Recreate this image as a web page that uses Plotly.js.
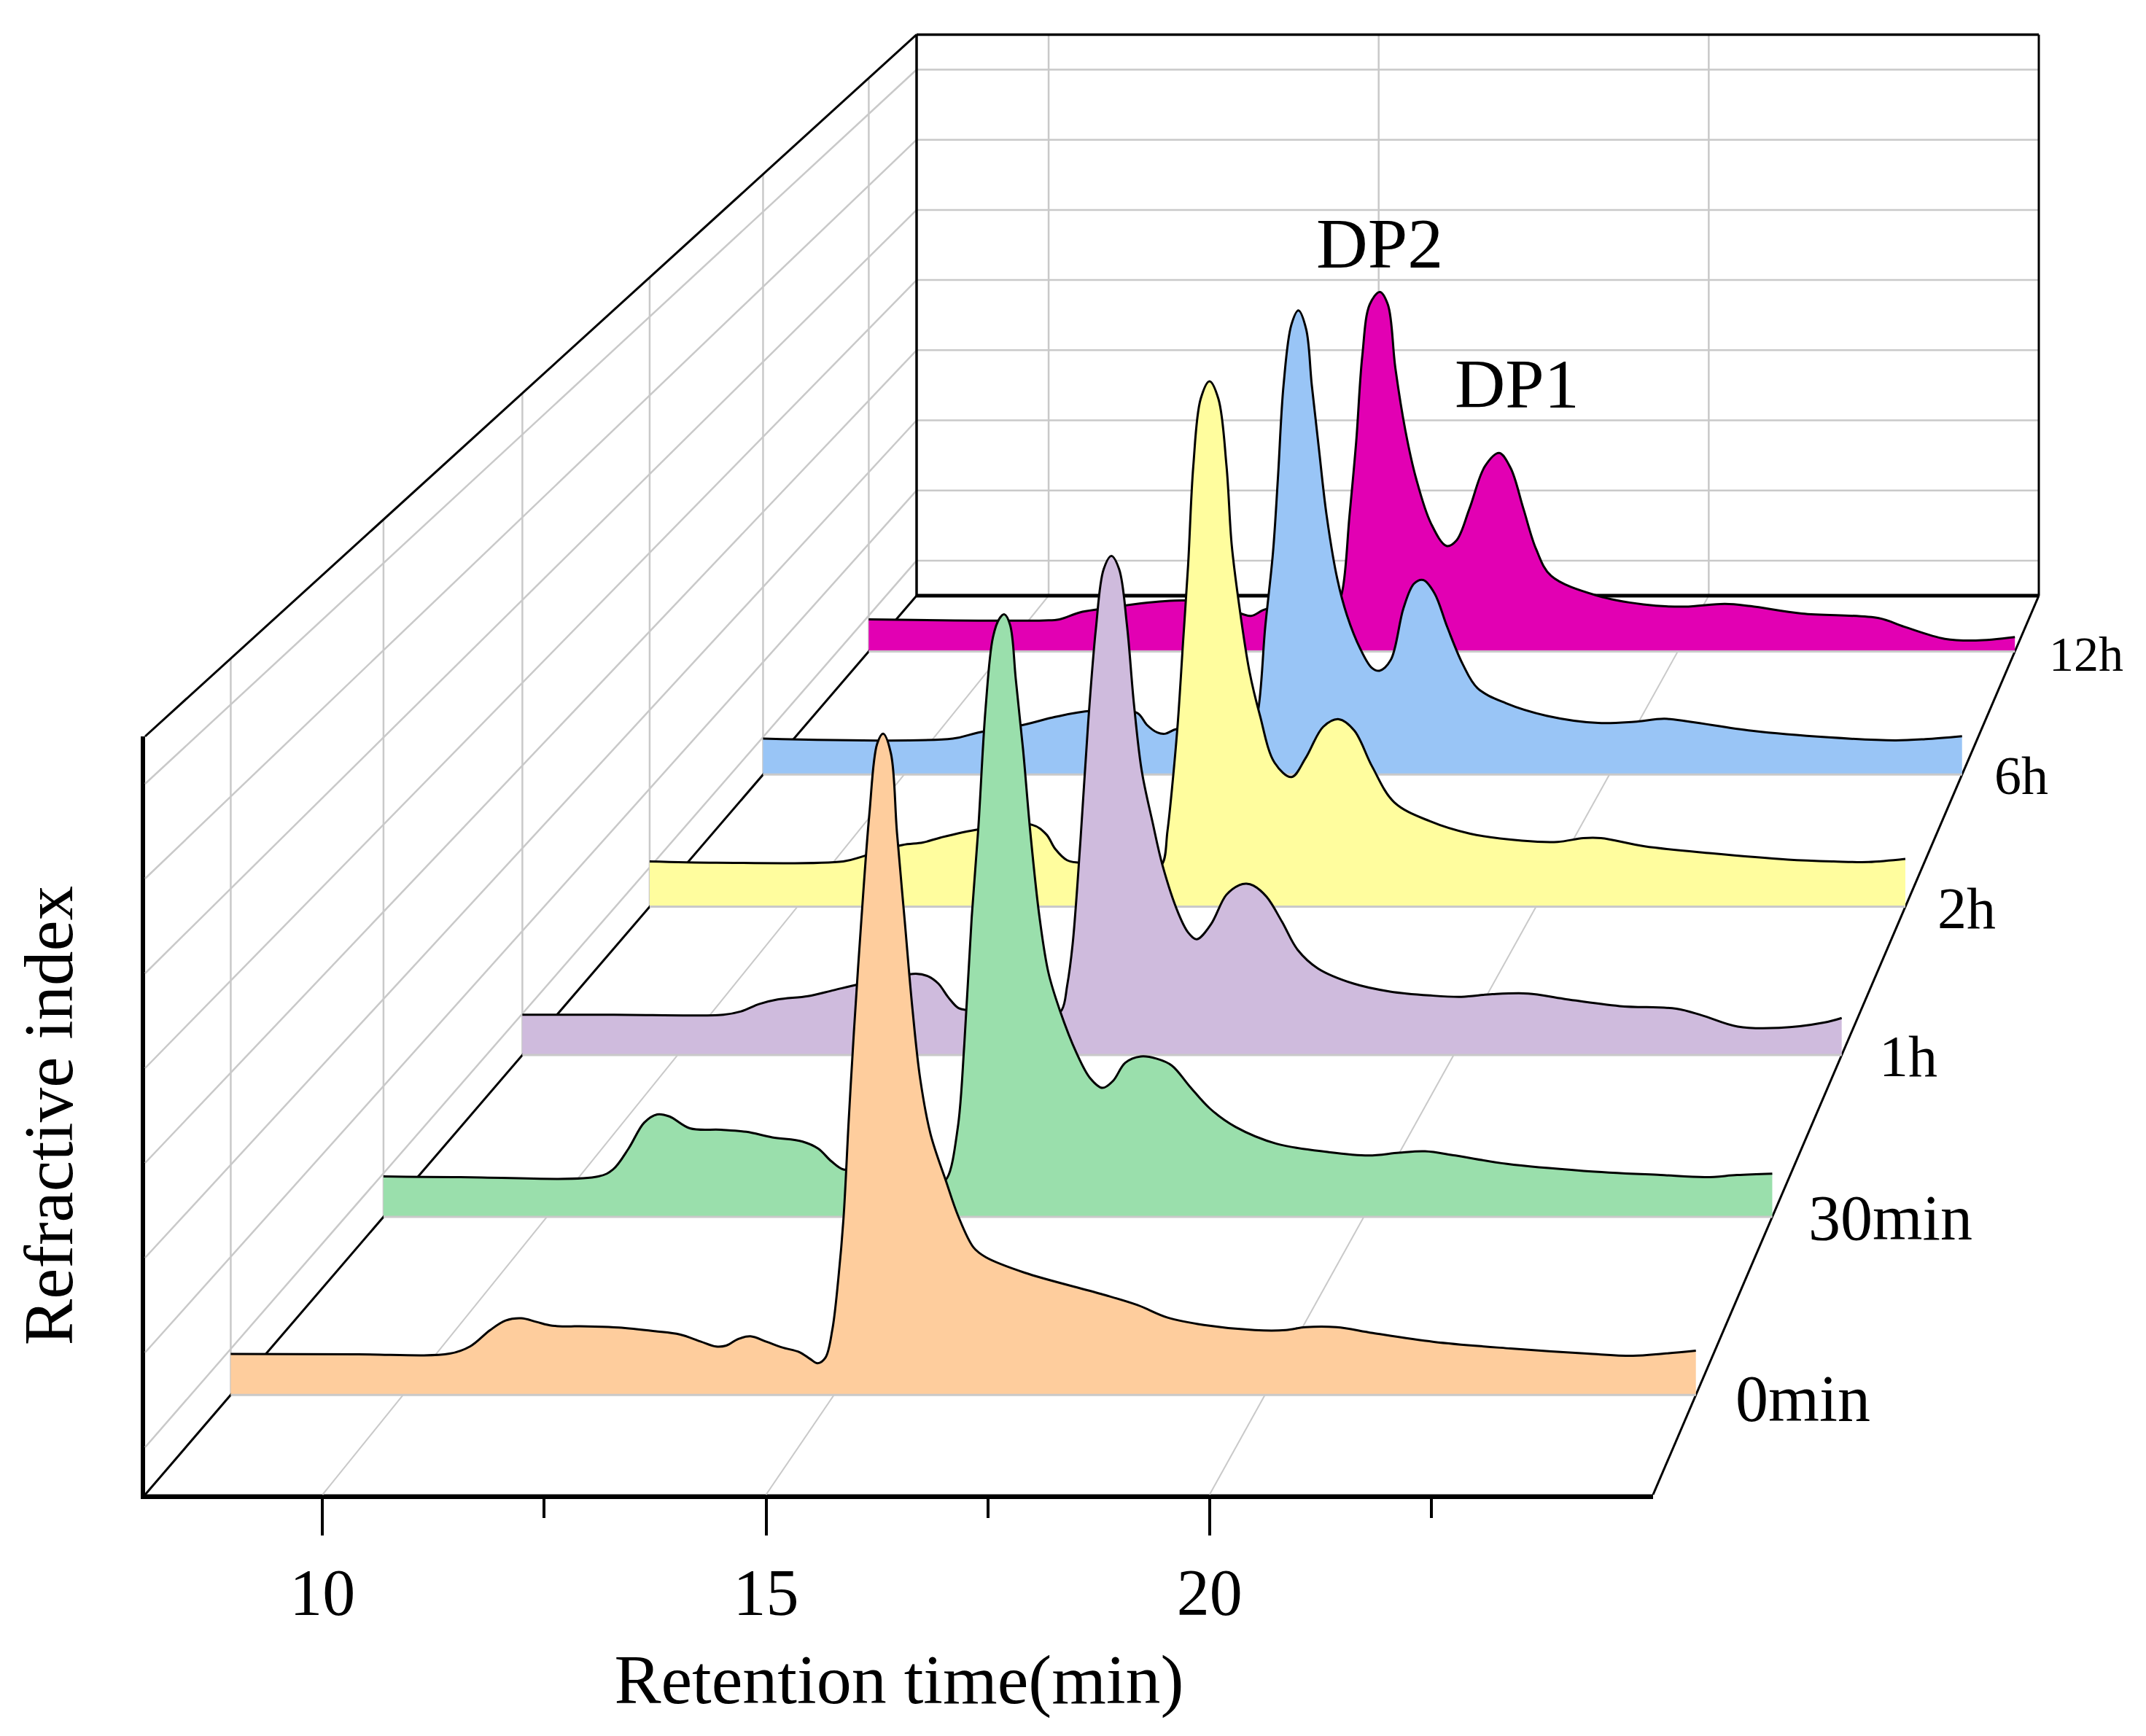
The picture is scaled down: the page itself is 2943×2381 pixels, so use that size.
<!DOCTYPE html>
<html>
<head>
<meta charset="utf-8">
<script src="https://cdn.plot.ly/plotly-3.0.1.min.js"></script>
<style>html,body{margin:0;padding:0;background:#fff}</style>
</head>
<body>
<div id="chart" style="width:2943px;height:2381px"></div>
<script>
// ---- data: retention time (min) and refractive index (% of wall height) ----
const rt0min = [8,9.47,10.54,10.78,11.01,11.19,11.37,11.55,11.73,12.14,12.5,12.92,13.21,13.45,13.63,13.75,13.89,14.03,14.22,14.4,14.6,14.72,14.81,14.9,14.98,15.05,15.11,15.17,15.23,15.32,15.41,15.5,15.57,15.66,15.73,15.82,15.91,16,16.12,16.3,16.44,16.62,16.76,17.21,18.1,18.52,18.87,19.29,19.88,20.24,20.47,20.83,21.25,21.96,22.85,23.74,24.27,24.63,25];
const ri0min = [5.56,5.5,5.6,6.6,8.8,10.1,10.4,9.9,9.4,9.3,9.15,8.65,8.2,7.26,6.57,6.7,7.6,7.95,7.2,6.44,5.8,4.9,4.3,5.05,8.84,15.8,24,37.2,49.2,65,78.9,88.4,89.8,87.1,76.4,64.4,52.4,42.9,35.4,29,24.3,20,18.7,16.6,13.7,12.2,10.5,9.5,8.8,8.8,9.2,9.2,8.4,7.2,6.3,5.6,5.3,5.6,6];

const rt30min = [8,8.94,10.63,10.81,11,11.19,11.35,11.5,11.75,12.13,12.44,12.76,13.13,13.32,13.48,13.63,14,14.4,14.81,14.9,15.03,15.11,15.2,15.28,15.37,15.46,15.54,15.6,15.67,15.74,15.83,15.92,16.03,16.14,16.28,16.48,16.65,16.8,16.93,17.08,17.27,17.46,17.65,17.87,18.12,18.43,18.93,19.56,20.06,20.43,20.75,21.12,21.75,22.69,23.63,24.19,24.57,25];
const ri30min = [5.8,5.7,5.8,6.8,9.8,13.5,14.7,14.4,12.7,12.5,12.2,11.4,10.8,9.8,8,6.8,7,6.5,4.8,5.6,12.8,24.8,42.9,55.5,72.9,83.1,85.8,86.4,84.9,77.1,66.9,54.9,43,35,29.6,23.6,19.9,18.5,19.5,22.1,23,22.7,21.7,18.7,15.5,12.9,10.5,9.3,8.8,9.2,9.4,8.8,7.6,6.6,6,5.7,6,6.2];

const rt1h = [8,9.18,10.59,10.82,11.05,11.29,11.68,12.01,12.34,13.07,13.23,13.36,13.49,13.62,13.74,14.4,14.8,14.95,15.02,15.09,15.19,15.29,15.39,15.49,15.59,15.69,15.79,15.88,15.98,16.12,16.25,16.45,16.58,16.69,16.87,17.07,17.24,17.33,17.42,17.59,17.79,17.99,18.25,18.71,19.18,19.7,20.1,20.5,20.96,21.42,22.14,22.87,23.2,23.66,24.19,24.77,25];
const ri1h = [6.1,6.1,6.1,6.6,7.7,8.4,8.9,9.8,10.7,12.3,11.9,10.8,8.7,7.1,6.8,6.4,5.6,6.8,10.5,16.7,32.2,50.1,64.4,73.4,75.4,73.4,65,53.1,43,35.2,28.6,21.5,18.5,17.5,19.7,24.2,25.7,25.9,25.6,23.9,20.1,15.9,13.1,10.8,9.6,9,8.8,9.2,9.3,8.5,7.4,7,6,4.3,4.1,4.9,5.6];

const rt2h = [8,8.9,10.62,10.9,11.42,11.7,11.94,12.46,13.18,13.37,13.49,13.65,13.81,14.4,14.8,14.94,15.01,15.08,15.15,15.22,15.29,15.36,15.46,15.58,15.7,15.81,15.88,15.98,16.12,16.26,16.46,16.69,16.88,17.12,17.33,17.54,17.78,18.08,18.56,19.11,19.81,20.29,20.64,20.88,21.47,22.37,23.41,24.03,24.5,25];
const ri2h = [7.2,7,7.2,8.05,9.8,10.2,11,12.3,13,11.5,9.2,7.4,7,6.8,5.8,6.8,12,19.8,29.2,41.8,54.3,70,80.7,83.5,80.7,70,57.5,48,37.4,30.5,22.9,20.6,23.6,28.6,29.8,28,22.3,16.6,13.6,11.6,10.5,10.3,10.9,10.9,9.6,8.5,7.5,7.2,7.1,7.6];

const rt6h = [8,10.69,11.05,11.7,12.14,12.65,13.3,13.44,13.59,13.7,13.87,14.4,14.9,15.01,15.12,15.23,15.3,15.38,15.49,15.59,15.7,15.78,15.88,15.99,16.14,16.28,16.47,16.63,16.74,16.9,17.08,17.23,17.36,17.52,17.7,17.92,18.13,18.53,19.11,19.84,20.35,20.78,21.15,22.02,23.11,24.05,24.48,25];
const ri6h = [6,6,7,8.3,9.6,10.6,10.3,8.3,7,6.8,7.6,7,6.4,10.1,24.6,37,49.4,64.9,74.9,77.3,74.2,64.9,54.4,43.2,32.7,26.5,20.9,17.8,17.3,19.1,27.7,31.8,32.4,30.2,24.6,18.4,14.4,11.9,9.8,8.6,8.8,9.3,8.8,7.3,6.2,5.7,5.9,6.4];

const rt12h = [8,10.6,10.83,11.13,11.44,12.04,12.65,13.26,13.48,13.67,13.9,14.4,14.9,15.02,15.13,15.23,15.32,15.43,15.58,15.7,15.81,15.96,16.12,16.34,16.57,16.72,16.91,17.14,17.35,17.52,17.71,17.9,18.12,18.81,19.49,20.1,20.7,21.08,21.84,22.98,23.36,23.96,24.42,25];
const ri12h = [5.6,5.4,5.6,6.8,7.4,8.4,8.9,8.4,6.8,6.2,7.4,7,6.6,10.3,23.6,36.6,51.5,60.5,62.7,60.5,49.5,38.5,30.1,22.3,18.4,19.4,24.9,32.3,34.6,32,24.9,17.8,13.2,9.7,8.2,7.8,8.3,7.9,6.6,5.8,4.3,2.2,1.9,2.5];

const seriesNames = ['12h','6h','2h','1h','30min','0min'];
const seriesRT = [rt12h,rt6h,rt2h,rt1h,rt30min,rt0min];
const seriesRI = [ri12h,ri6h,ri2h,ri1h,ri30min,ri0min];
const fills = ['#E200B3','#99C5F6','#FFFD9E','#CFBBDD','#9ADFAC','#FECD9D'];
const depths = [0.938,0.801,0.654,0.489,0.309,0.111];

const xTicks = [10,15,20];
const xMinor = [12.5,17.5,22.5];
const xTickText = ['10','15','20'];
const wallLevels = [6.25,18.75,31.25,43.75,56.25,68.75,81.25,93.75];

// ---- page frame (pixels) ----
const W = 2943, H = 2381;
const axL = 199, axR = 2267, axB = 2050, axT = 1010;
const backL = 1257, backR = 2796, backB = 817;
const pxT = (axR-axL)/17, pxV = (axB-axT)/100;
const depthX = (backL-axL)/pxT, depthY = (axB-backB)/pxV;
const shrinkX = 1-(backR-backL)/(axR-axL), shrinkV = 0.26;

// oblique projection of (time, index, depth) onto the front plane's scales
const px = (t,d) => 8 + d*depthX + (t-8)*(1-shrinkX*d);
const py = (v,d) => d*depthY + v*(1-shrinkV*d);

const traces = [];
const seg = (t0,v0,d0,t1,v1,d1,color,width) => traces.push({
  x:[px(t0,d0),px(t1,d1)], y:[py(v0,d0),py(v1,d1)],
  xaxis:'x2', yaxis:'y2', mode:'lines', hoverinfo:'skip', showlegend:false,
  line:{color,width}
});
const GRID = '#c9c9c9';
wallLevels.forEach(v => { seg(8,v,0,8,v,1,GRID,2.5); seg(8,v,1,25,v,1,GRID,2.5); });
depths.forEach(d => seg(8,0,d,8,100,d,GRID,2.5));
xTicks.forEach(t => { seg(t,0,0,t,0,1,GRID,2); seg(t,0,1,t,100,1,GRID,2.5); });
const INK = '#000';
seg(8,100,0,8,100,1,INK,3);
seg(8,0,0,8,0,1,INK,3);
seg(25,0,0,25,0,1,INK,3);
seg(8,0,1,25,0,1,INK,5);
seg(8,0,1,8,100,1,INK,3.5);
seg(8,100,1,25,100,1,INK,3.5);
seg(25,0,1,25,100,1,INK,3);

seriesNames.forEach((name,i) => {
  const d = depths[i];
  traces.push({
    x:[px(8,d),px(25,d)], y:[py(0,d),py(0,d)],
    xaxis:'x2', yaxis:'y2', mode:'lines', hoverinfo:'skip', showlegend:false,
    line:{color:GRID,width:3}
  });
  traces.push({
    name,
    x:seriesRT[i].map(t=>px(t,d)), y:seriesRI[i].map(v=>py(v,d)),
    xaxis:'x2', yaxis:'y2', mode:'lines', fill:'tonexty', fillcolor:fills[i],
    showlegend:false, hoverinfo:'skip',
    line:{color:INK,width:3,shape:'spline',smoothing:1,simplify:false}
  });
});
// keeps the true retention-time axes in the figure
traces.unshift({x:[8,25],y:[0,0],xaxis:'x',yaxis:'y',mode:'lines',hoverinfo:'skip',showlegend:false,line:{color:INK,width:1}});

const FONT = 'Liberation Serif';
const note = (text,xpx,ypx,size) => ({
  text, xref:'paper', yref:'paper', x:xpx/W, y:1-ypx/H, xanchor:'center', yanchor:'middle',
  showarrow:false, font:{family:FONT,size,color:'#000'}
});

const layout = {
  width:W, height:H, margin:{l:0,r:0,t:0,b:0}, paper_bgcolor:'#fff', plot_bgcolor:'rgba(0,0,0,0)',
  showlegend:false, font:{family:FONT,color:'#000'},
  xaxis:{
    domain:[axL/W,axR/W], range:[8,25], anchor:'y', showgrid:false, zeroline:false,
    showline:true, linecolor:'#000', linewidth:6,
    ticks:'outside', ticklen:50, tickwidth:4, tickcolor:'#000',
    tickvals:xTicks, ticktext:xTickText, ticklabelstandoff:1, tickfont:{family:FONT,size:90,color:'#000'},
    minor:{tickvals:xMinor, ticks:'outside', ticklen:26, tickwidth:4, tickcolor:'#000', showgrid:false},
    title:{text:'Retention time(min)', font:{family:FONT,size:96,color:'#000'}, standoff:38}
  },
  yaxis:{
    domain:[1-axB/H,1-axT/H], range:[0,100], anchor:'x', showgrid:false, zeroline:false,
    showline:true, linecolor:'#000', linewidth:6, ticks:'', showticklabels:false,
    title:{text:'Refractive index', font:{family:FONT,size:95,color:'#000'}, standoff:64}
  },
  xaxis2:{domain:[0,1], range:[8-axL/pxT, 8+(W-axL)/pxT], anchor:'y2', visible:false, fixedrange:true},
  yaxis2:{domain:[0,1], range:[-(H-axB)/pxV, axB/pxV], anchor:'x2', visible:false, fixedrange:true},
  annotations:[
    note('DP2',1892,334,98), note('DP1',2080,526,96),
    note('0min',2472,1918,90), note('30min',2592,1670,88), note('1h',2617,1449,80),
    note('2h',2697,1246,80), note('6h',2772,1064,74), note('12h',2861,897,68)
  ]
};
Plotly.newPlot('chart',traces,layout,{displayModeBar:false,staticPlot:true});
</script>
</body>
</html>
